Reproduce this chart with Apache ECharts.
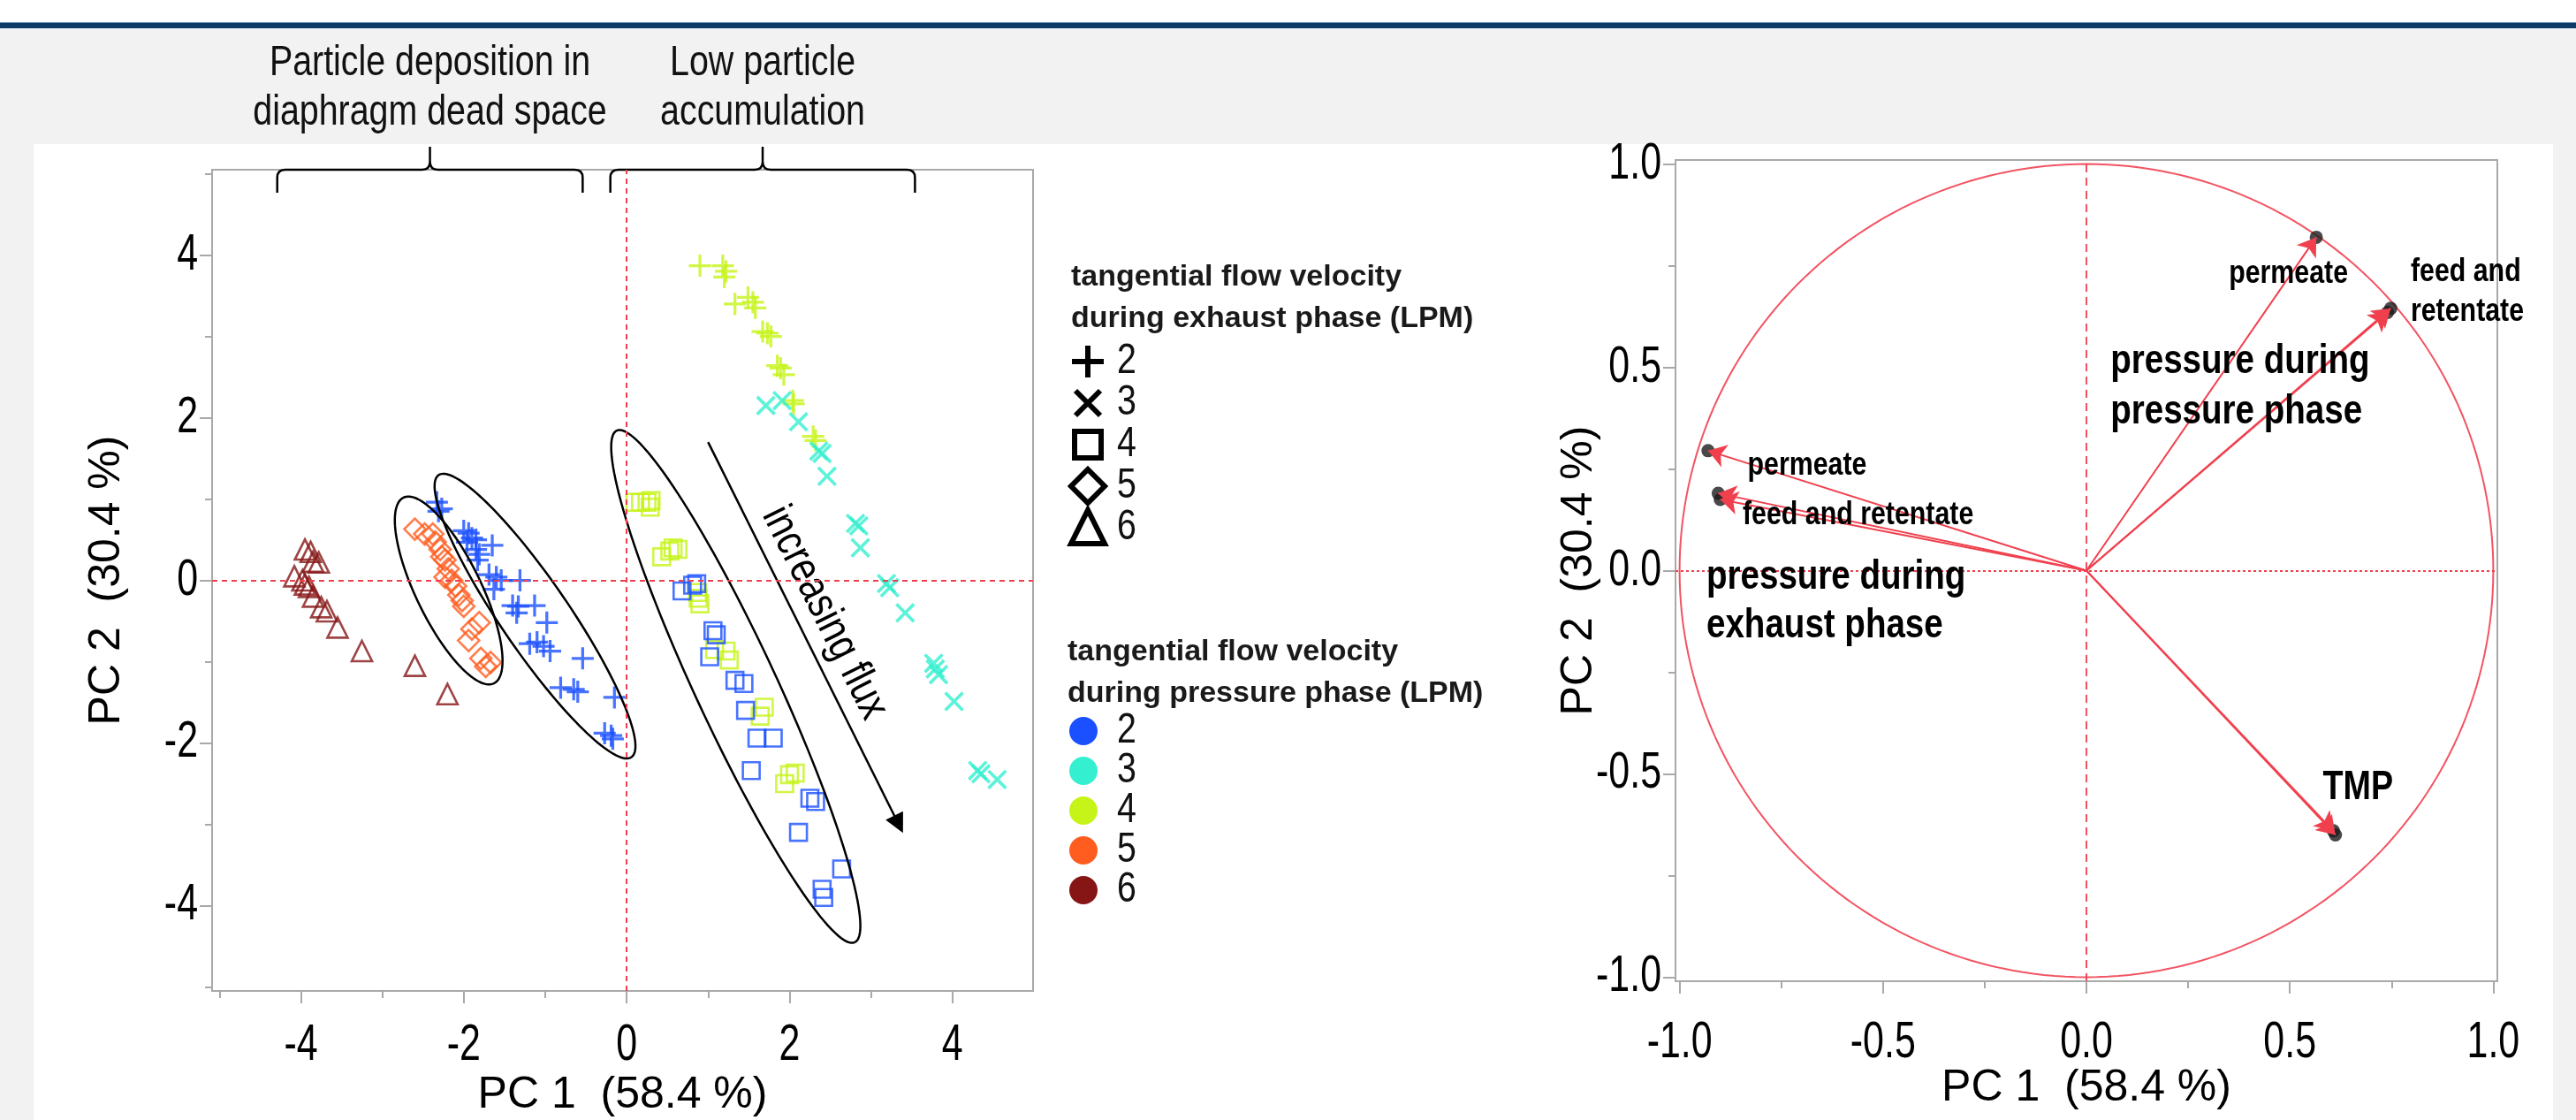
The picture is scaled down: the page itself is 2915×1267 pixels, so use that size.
<!DOCTYPE html>
<html>
<head>
<meta charset="utf-8">
<title>PCA scores and loadings</title>
<script src="https://cdn.jsdelivr.net/npm/echarts@6/dist/echarts.min.js"></script>
<style>
  html, body { margin: 0; padding: 0; }
  body { width: 2915px; height: 1267px; background: #f2f2f2; position: relative; overflow: hidden; }
  #band { position: absolute; left: 0; top: 0; width: 100%; height: 26px; background: #ffffff; }
  #bar { position: absolute; left: 0; top: 26px; width: 100%; height: 6px; background: #0e3a66; box-shadow: 0 -1px 0 #6d93b8; }
  #panel { position: absolute; left: 38px; top: 163px; width: 2851px; height: 1104px; background: #ffffff; }
  #main { position: absolute; left: 0; top: 0; width: 2915px; height: 1267px; }
</style>
</head>
<body>
<div id="band"></div><div id="bar"></div><div id="panel"></div>
<div id="main"></div>
<script>
// Arial-Narrow look: Liberation Sans squeezed horizontally
var SANS = "'Liberation Sans', Arial, sans-serif";
var NARROW_X = 0.82;

// ---------- scores, [PC1, PC2] per exhaust / pressure combination ----------
var plusP2 = [ // exhaust 2 LPM, pressure 2 LPM
  [-2.33, 0.96], [-2.27, 0.88], [-2.31, 0.85], [-2.00, 0.61], [-1.94, 0.58],
  [-1.90, 0.52], [-1.96, 0.47], [-1.85, 0.50], [-1.65, 0.43], [-1.85, 0.38],
  [-1.81, 0.32], [-1.83, 0.25], [-1.69, 0.07], [-1.60, 0.04], [-1.54, 0.00],
  [-1.31, 0.00], [-1.63, -0.11], [-1.40, -0.31], [-1.33, -0.32], [-1.35, -0.40],
  [-1.13, -0.31], [-0.98, -0.52], [-1.19, -0.78], [-1.10, -0.76], [-1.02, -0.81],
  [-0.94, -0.87], [-0.54, -0.96], [-0.81, -1.32], [-0.65, -1.34], [-0.60, -1.37],
  [-0.15, -1.44], [-0.27, -1.88], [-0.19, -1.91], [-0.17, -1.95]
];
var plusP4 = [ // exhaust 2, pressure 4
  [0.90, 3.87], [1.18, 3.87], [1.22, 3.80], [1.20, 3.73], [1.33, 3.40],
  [1.49, 3.48], [1.55, 3.42], [1.58, 3.35], [1.67, 3.06], [1.73, 3.04],
  [1.77, 3.00], [1.85, 2.64], [1.89, 2.61], [1.93, 2.53], [2.04, 2.21],
  [2.05, 2.17], [2.29, 1.77], [2.32, 1.72]
];
var crossP3 = [ // exhaust 3, pressure 3
  [1.71, 2.15], [1.91, 2.21], [2.11, 1.95], [2.36, 1.59], [2.40, 1.56],
  [2.46, 1.28], [2.81, 0.70], [2.85, 0.67], [2.87, 0.40], [3.19, -0.04],
  [3.23, -0.09], [3.42, -0.40], [3.77, -1.02], [3.79, -1.09], [3.83, -1.16],
  [4.02, -1.49], [4.31, -2.34], [4.35, -2.38], [4.55, -2.45]
];
var squareP4 = [ // exhaust 4, pressure 4
  [0.10, 0.96], [0.17, 0.96], [0.25, 0.96], [0.30, 0.98], [0.29, 0.90],
  [0.43, 0.29], [0.53, 0.36], [0.57, 0.40], [0.63, 0.38], [0.87, -0.15],
  [0.88, -0.22], [0.90, -0.29], [1.08, -0.85], [1.22, -0.87], [1.26, -0.98],
  [1.64, -1.67], [1.69, -1.56], [1.94, -2.50], [2.00, -2.39], [2.07, -2.37]
];
var squareP2 = [ // exhaust 4, pressure 2
  [0.68, -0.13], [0.81, -0.06], [0.86, -0.04], [1.06, -0.62], [1.10, -0.67],
  [1.02, -0.94], [1.33, -1.23], [1.44, -1.27], [1.46, -1.60], [1.60, -1.94],
  [1.80, -1.94], [1.53, -2.34], [2.25, -2.68], [2.32, -2.72], [2.11, -3.10],
  [2.64, -3.55], [2.40, -3.80], [2.42, -3.90]
];
var diamondP5 = [ // exhaust 5, pressure 5
  [-2.60, 0.63], [-2.48, 0.57], [-2.38, 0.57], [-2.35, 0.47], [-2.29, 0.38],
  [-2.27, 0.29], [-2.23, 0.25], [-2.19, 0.14], [-2.23, 0.04], [-2.15, 0.00],
  [-2.10, -0.07], [-2.06, -0.18], [-2.02, -0.25], [-2.00, -0.32], [-1.81, -0.52],
  [-1.90, -0.60], [-1.94, -0.74], [-1.79, -0.96], [-1.67, -1.01], [-1.73, -1.06]
];
var triangleP6 = [ // exhaust 6, pressure 6
  [-3.95, 0.38], [-3.88, 0.35], [-3.85, 0.23], [-3.78, 0.22], [-4.08, 0.05],
  [-3.98, 0.00], [-3.95, -0.05], [-3.90, -0.08], [-3.85, -0.20], [-3.75, -0.33],
  [-3.68, -0.38], [-3.55, -0.58], [-3.25, -0.87], [-2.60, -1.05], [-2.20, -1.40]
];

// legend categories
var exhaustLevels = ['2', '3', '4', '5', '6'];
var exhaustShapes = ['plus', 'cross', 'square', 'diamond', 'triangle'];
var pressureLevels = ['2', '3', '4', '5', '6'];
var pressureColors = ['#1a50ff', '#34efd0', '#c6f418', '#ff5c1f', '#861515'];

// ---------- loadings ----------
var loadingNames = ['permeate (pressure phase)', 'feed (pressure phase)', 'retentate (pressure phase)',
  'permeate (exhaust phase)', 'feed (exhaust phase)', 'retentate (exhaust phase)',
  'TMP (pressure phase)', 'TMP (exhaust phase)'];
var loadingPC1 = [0.565, 0.740, 0.748, -0.930, -0.905, -0.900, 0.607, 0.612];
var loadingPC2 = [0.820, 0.635, 0.645, 0.295, 0.190, 0.175, -0.640, -0.650];

// ticks
var scoreTicks = [-4, -2, 0, 2, 4];
var scoreMinorX = [-5, -3, -1, 1, 3];
var scoreMinorY = [-5, -3, -1, 1, 3, 5];
var loadTicks = [-1, -0.5, 0, 0.5, 1];
var loadMinor = [-0.75, -0.25, 0.25, 0.75];

// ---------- annotations (data coordinates) ----------
var ellipseCx = [-2.185, -1.125, 1.34];
var ellipseCy = [-0.125, -0.44, -1.305];
var ellipseA = [1.27, 2.1, 3.47];
var ellipseB = [0.40, 0.42, 0.50];
var ellipseAngle = [-64.1, -55.7, -65.1];

var bracketFrom = [-4.29, -0.20];
var bracketTo = [-0.54, 3.54];
var bracketText = ['Particle deposition in\ndiaphragm dead space', 'Low particle\naccumulation'];

var fluxFrom = [1.0, 1.7];
var fluxTo = [3.34, -3.0];
var fluxTextAt = [2.43, -0.40];

var noteText = ['permeate', 'feed and\nretentate', 'pressure during\npressure phase', 'permeate',
  'feed and retentate', 'pressure during\nexhaust phase', 'TMP'];
var noteX = [0.35, 0.797, 0.059, -0.833, -0.845, -0.934, 0.581];
var noteY = [0.73, 0.735, 0.515, 0.258, 0.137, -0.016, -0.534];
var noteSize = [37, 37, 47, 37, 37, 47, 46];
var noteLine = [45, 45, 57, 45, 45, 55, 50];

var SX = [-5.09, 4.99], SY = [-5.05, 5.05], LX = [-1.01, 1.01], LY = [-1.01, 1.01];
var AXIS_GRAY = '#a9a9a9';
var ZERO_RED = '#f0404e';

var PLUS = 'path://M8.7,0H11.3V8.7H20V11.3H11.3V20H8.7V11.3H0V8.7H8.7Z';

function scoreSeries(name, data, shape, color) {
  var s = { name: name, type: 'scatter', xAxisIndex: 0, yAxisIndex: 0, data: data, z: 3 };
  if (shape === 'plus' || shape === 'cross') {
    s.symbol = PLUS;
    s.symbolSize = shape === 'plus' ? 25 : 28;
    s.symbolRotate = shape === 'cross' ? 45 : 0;
    s.itemStyle = { color: color };
  } else {
    s.symbol = { square: 'rect', diamond: 'diamond', triangle: 'triangle' }[shape];
    s.symbolSize = { square: 19, diamond: 24, triangle: 23 }[shape];
    s.itemStyle = { color: 'rgba(0,0,0,0)', borderColor: color, borderWidth: 2.6 };
  }
  return s;
}

// main axis (line, long ticks, name) + overlay axis for the short ticks
function axisPair(dir, grid, range, major, minor, name, gap) {
  var line = { color: AXIS_GRAY, width: 2 };
  var main = {
    type: 'value', gridIndex: grid, min: range[0], max: range[1],
    position: dir === 'x' ? 'bottom' : 'left',
    axisLine: { show: true, onZero: false, lineStyle: line },
    axisTick: { show: true, customValues: major, length: 14, lineStyle: line },
    axisLabel: { show: false },
    splitLine: { show: false },
    name: name, nameLocation: 'middle', nameGap: gap, nameMoveOverlap: false,
    nameTextStyle: { fontSize: 50, fontFamily: SANS, color: '#000' }
  };
  var sub = {
    type: 'value', gridIndex: grid, min: range[0], max: range[1],
    position: dir === 'x' ? 'bottom' : 'left',
    axisLine: { show: false, onZero: false },
    axisTick: { show: true, customValues: minor, length: 8, lineStyle: line },
    axisLabel: { show: false },
    splitLine: { show: false }
  };
  return [main, sub];
}

// tick labels in the narrow face, placed through the axis scale
function tickLabelSeries(axisIdx, values, dir, fixed, offset, fmt) {
  return {
    type: 'custom', xAxisIndex: axisIdx, yAxisIndex: axisIdx, clip: false, silent: true,
    data: values.map(function (v) { return dir === 'x' ? [v, fixed] : [fixed, v]; }),
    renderItem: function (params, api) {
      var p = api.coord([api.value(0), api.value(1)]);
      var v = dir === 'x' ? api.value(0) : api.value(1);
      var al = dir === 'x' ? 'center' : 'right';
      return {
        type: 'text',
        x: dir === 'x' ? p[0] : p[0] - offset,
        y: dir === 'x' ? p[1] + offset : p[1],
        scaleX: 0.74,
        style: {
          text: fmt(v), fontSize: 58, fontFamily: SANS, fill: '#000',
          align: al, verticalAlign: 'middle', textAlign: al, textVerticalAlign: 'middle'
        }
      };
    }
  };
}

function renderEllipse(params, api) {
  var i = params.dataIndex;
  var cx = api.value(0), cy = api.value(1);
  var a = ellipseA[i], b = ellipseB[i], t = ellipseAngle[i] * Math.PI / 180;
  var pts = [];
  for (var k = 0; k <= 144; k++) {
    var s = k / 144 * Math.PI * 2;
    var ex = a * Math.cos(s), ey = b * Math.sin(s);
    pts.push(api.coord([cx + ex * Math.cos(t) - ey * Math.sin(t), cy + ex * Math.sin(t) + ey * Math.cos(t)]));
  }
  return { type: 'polyline', shape: { points: pts }, style: { fill: 'none', stroke: '#000', lineWidth: 2.5 } };
}

function renderBracket(params, api) {
  var i = params.dataIndex;
  var top = api.coord([0, SY[1]])[1];
  var x1 = api.coord([bracketFrom[i], 0])[0];
  var x2 = api.coord([bracketTo[i], 0])[0];
  var xm = (x1 + x2) / 2, h = 26, r = 9;
  var d = 'M' + x1 + ',' + (top + h) + 'L' + x1 + ',' + (top + r) +
    'Q' + x1 + ',' + top + ',' + (x1 + r) + ',' + top +
    'L' + (xm - r) + ',' + top + 'Q' + xm + ',' + top + ',' + xm + ',' + (top - r) +
    'L' + xm + ',' + (top - h) + 'L' + xm + ',' + (top - r) +
    'Q' + xm + ',' + top + ',' + (xm + r) + ',' + top +
    'L' + (x2 - r) + ',' + top + 'Q' + x2 + ',' + top + ',' + x2 + ',' + (top + r) +
    'L' + x2 + ',' + (top + h);
  return {
    type: 'group',
    children: [
      { type: 'path', shape: { pathData: d }, style: { fill: 'none', stroke: '#000', lineWidth: 2.5 } },
      {
        type: 'text', x: xm, y: top - 36, scaleX: NARROW_X,
        style: {
          text: bracketText[i], fontSize: 48, fontFamily: SANS, fill: '#111', lineHeight: 56,
          align: 'center', verticalAlign: 'bottom', textAlign: 'center', textVerticalAlign: 'bottom'
        }
      }
    ]
  };
}

function renderFluxText(params, api) {
  var p = api.coord([api.value(0), api.value(1)]);
  var a = api.coord(fluxFrom), b = api.coord(fluxTo);
  var ang = Math.atan2(a[1] - b[1], b[0] - a[0]);
  return {
    type: 'text', x: p[0], y: p[1], rotation: ang, scaleX: NARROW_X,
    style: {
      text: 'increasing flux', fontSize: 50, fontFamily: SANS, fill: '#000',
      align: 'center', verticalAlign: 'middle', textAlign: 'center', textVerticalAlign: 'middle'
    }
  };
}

function renderCircle(params, api) {
  var cx = api.value(0), cy = api.value(1), pts = [];
  for (var k = 0; k <= 240; k++) {
    var s = k / 240 * Math.PI * 2;
    pts.push(api.coord([cx + Math.cos(s), cy + Math.sin(s)]));
  }
  return { type: 'polyline', shape: { points: pts }, style: { fill: 'none', stroke: '#f25462', lineWidth: 2 } };
}

function renderNote(params, api) {
  var i = params.dataIndex;
  var p = api.coord([api.value(0), api.value(1)]);
  return {
    type: 'text', x: p[0], y: p[1] - noteLine[i] / 2, scaleX: NARROW_X,
    style: {
      text: noteText[i], fontSize: noteSize[i], fontWeight: 'bold', fontFamily: SANS,
      lineHeight: noteLine[i], fill: '#000',
      align: 'left', verticalAlign: 'top', textAlign: 'left', textVerticalAlign: 'top'
    }
  };
}

// legend of the score plot, drawn as graphics
function shapeEls(kind, cx, cy) {
  var st = { fill: 'none', stroke: '#000', lineWidth: 6 };
  if (kind === 'plus') {
    return [
      { type: 'line', shape: { x1: cx - 18, y1: cy, x2: cx + 18, y2: cy }, style: st },
      { type: 'line', shape: { x1: cx, y1: cy - 18, x2: cx, y2: cy + 18 }, style: st }
    ];
  }
  if (kind === 'cross') {
    return [
      { type: 'line', shape: { x1: cx - 14, y1: cy - 14, x2: cx + 14, y2: cy + 14 }, style: st },
      { type: 'line', shape: { x1: cx - 14, y1: cy + 14, x2: cx + 14, y2: cy - 14 }, style: st }
    ];
  }
  if (kind === 'square') {
    return [{ type: 'rect', shape: { x: cx - 15, y: cy - 15, width: 30, height: 30 }, style: st }];
  }
  if (kind === 'diamond') {
    return [{ type: 'polygon', shape: { points: [[cx, cy - 19], [cx + 19, cy], [cx, cy + 19], [cx - 19, cy]] }, style: st }];
  }
  return [{ type: 'polygon', shape: { points: [[cx, cy - 20], [cx + 19, cy + 18], [cx - 19, cy + 18]] }, style: st }];
}

function legendEls() {
  var els = [];
  var titleStyle = { fontSize: 34, fontWeight: 'bold', fontFamily: SANS, fill: '#1a1a1a', lineHeight: 47 };
  var numStyle = { fontSize: 48, fontFamily: SANS, fill: '#111', verticalAlign: 'middle', textVerticalAlign: 'middle' };
  els.push({ type: 'text', x: 1212, y: 290, style: Object.assign({ text: 'tangential flow velocity\nduring exhaust phase (LPM)' }, titleStyle) });
  exhaustLevels.forEach(function (lv, i) {
    var cy = 409 + i * 47;
    els = els.concat(shapeEls(exhaustShapes[i], 1231, cy));
    els.push({ type: 'text', x: 1264, y: cy, scaleX: NARROW_X, style: Object.assign({ text: lv }, numStyle) });
  });
  els.push({ type: 'text', x: 1208, y: 714, style: Object.assign({ text: 'tangential flow velocity\nduring pressure phase (LPM)' }, titleStyle) });
  pressureLevels.forEach(function (lv, i) {
    var cy = 827 + i * 45;
    els.push({ type: 'circle', shape: { cx: 1226, cy: cy, r: 16 }, style: { fill: pressureColors[i] } });
    els.push({ type: 'text', x: 1264, y: cy, scaleX: NARROW_X, style: Object.assign({ text: lv }, numStyle) });
  });
  return els;
}

document.addEventListener('DOMContentLoaded', function () {
  var chartDom = document.getElementById('main');
  var myChart = echarts.init(chartDom, null, { renderer: 'canvas' });
  var option;

  var sx = axisPair('x', 0, SX, scoreTicks, scoreMinorX, 'PC 1  (58.4 %)', 93);
  var sy = axisPair('y', 0, SY, scoreTicks, scoreMinorY, 'PC 2  (30.4 %)', 94);
  var lx = axisPair('x', 1, LX, loadTicks, loadMinor, 'PC 1  (58.4 %)', 96);
  var ly = axisPair('y', 1, LY, loadTicks, loadMinor, 'PC 2  (30.4 %)', 84);
  var fmt0 = function (v) { return String(v); };
  var fmt1 = function (v) { return v.toFixed(1); };

  option = {
    animation: false,
    backgroundColor: 'transparent',
    textStyle: { fontFamily: SANS },
    grid: [
      { left: 240, top: 192, width: 929, height: 929, show: true, borderColor: AXIS_GRAY, borderWidth: 2, containLabel: false, outerBoundsMode: 'none' },
      { left: 1896, top: 181, width: 930, height: 929, show: true, borderColor: AXIS_GRAY, borderWidth: 2, containLabel: false, outerBoundsMode: 'none' }
    ],
    // 0,1 score plot; 2,3 loading plot
    xAxis: [sx[0], sx[1], lx[0], lx[1]],
    yAxis: [sy[0], sy[1], ly[0], ly[1]],
    graphic: { elements: legendEls() },
    series: [
      // ---- score plot ----
      Object.assign(scoreSeries('exhaust 2 / pressure 2', plusP2, 'plus', pressureColors[0]), {
        markLine: {
          silent: true, symbol: 'none', label: { show: false },
          lineStyle: { color: ZERO_RED, width: 2, type: [6, 5] },
          data: [{ xAxis: 0 }, { yAxis: 0 }]
        }
      }),
      scoreSeries('exhaust 2 / pressure 4', plusP4, 'plus', pressureColors[2]),
      scoreSeries('exhaust 3 / pressure 3', crossP3, 'cross', pressureColors[1]),
      scoreSeries('exhaust 4 / pressure 4', squareP4, 'square', pressureColors[2]),
      scoreSeries('exhaust 4 / pressure 2', squareP2, 'square', pressureColors[0]),
      scoreSeries('exhaust 5 / pressure 5', diamondP5, 'diamond', pressureColors[3]),
      scoreSeries('exhaust 6 / pressure 6', triangleP6, 'triangle', pressureColors[4]),
      {
        type: 'custom', xAxisIndex: 0, yAxisIndex: 0, clip: false, silent: true, z: 4,
        data: ellipseCx.map(function (x, i) { return [x, ellipseCy[i]]; }),
        renderItem: renderEllipse
      },
      {
        type: 'lines', coordinateSystem: 'cartesian2d', xAxisIndex: 0, yAxisIndex: 0, silent: true, z: 4,
        symbol: ['none', 'triangle'], symbolSize: [14, 22],
        lineStyle: { color: '#000', width: 2.5, opacity: 1 },
        data: [{ coords: [fluxFrom, fluxTo] }]
      },
      {
        type: 'custom', xAxisIndex: 0, yAxisIndex: 0, clip: false, silent: true, z: 4,
        data: [fluxTextAt], renderItem: renderFluxText
      },
      {
        type: 'custom', xAxisIndex: 0, yAxisIndex: 0, clip: false, silent: true, z: 4,
        data: bracketFrom.map(function (x, i) { return [(x + bracketTo[i]) / 2, SY[1]]; }),
        renderItem: renderBracket
      },
      tickLabelSeries(0, scoreTicks, 'x', SY[0], 62, fmt0),
      tickLabelSeries(0, scoreTicks, 'y', SX[0], 16, fmt0),
      // ---- loading plot ----
      {
        type: 'custom', xAxisIndex: 2, yAxisIndex: 2, clip: false, silent: true, z: 2,
        data: [[0, 0]], renderItem: renderCircle
      },
      {
        name: 'loading tips', type: 'scatter', xAxisIndex: 2, yAxisIndex: 2, z: 3,
        symbol: 'circle', symbolSize: 15, itemStyle: { color: '#1c1c1c' },
        data: loadingPC1.map(function (x, i) { return [x, loadingPC2[i]]; }),
        markLine: {
          silent: true, symbol: 'none', label: { show: false },
          lineStyle: { color: ZERO_RED, width: 1.8 },
          data: [
            { xAxis: 0, lineStyle: { type: [9, 6], width: 1.8 } },
            { yAxis: 0, lineStyle: { type: [3, 3], width: 2.2 } }
          ]
        }
      },
      {
        type: 'lines', coordinateSystem: 'cartesian2d', xAxisIndex: 2, yAxisIndex: 2, silent: true, z: 4,
        symbol: ['none', 'arrow'], symbolSize: [14, 20],
        lineStyle: { color: '#f0404e', width: 2, opacity: 1 },
        data: loadingPC1.map(function (x, i) {
          return { name: loadingNames[i], coords: [[0, 0], [x, loadingPC2[i]]] };
        })
      },
      {
        type: 'custom', xAxisIndex: 2, yAxisIndex: 2, clip: false, silent: true, z: 5,
        data: noteX.map(function (x, i) { return [x, noteY[i]]; }),
        renderItem: renderNote
      },
      tickLabelSeries(2, loadTicks, 'x', LY[0], 70, fmt1),
      tickLabelSeries(2, loadTicks, 'y', LX[0], 16, fmt1)
    ]
  };

  option && myChart.setOption(option);
});
</script>
</body>
</html>
